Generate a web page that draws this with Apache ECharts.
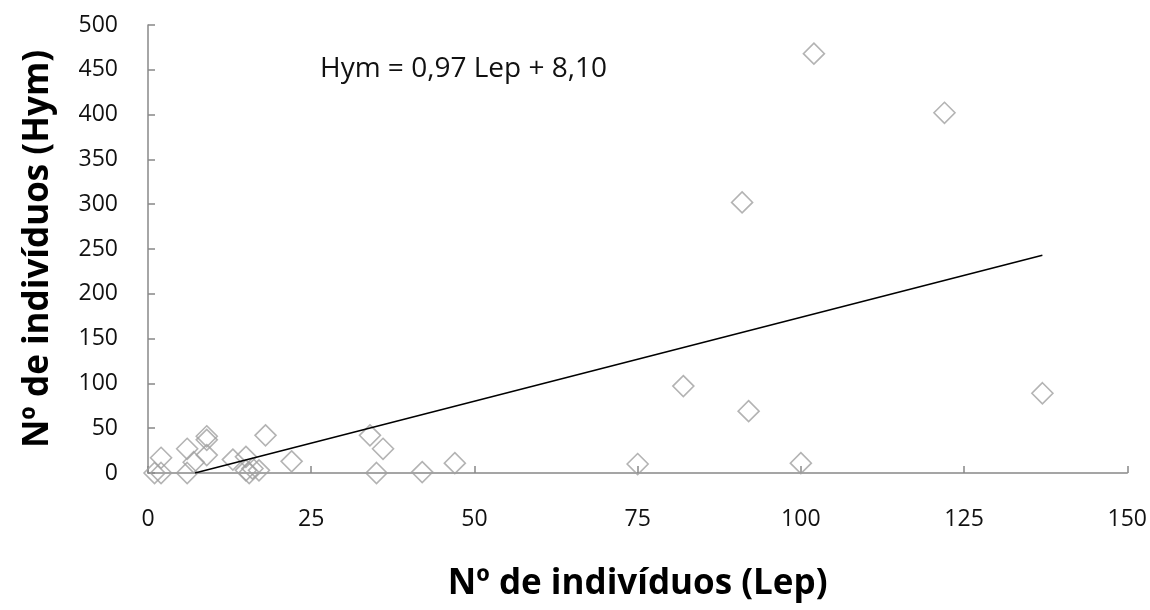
<!DOCTYPE html>
<html>
<head>
<meta charset="utf-8">
<script src="https://cdn.jsdelivr.net/npm/echarts@6/dist/echarts.min.js"></script>
<style>
html,body{margin:0;padding:0;background:#fff;}
#chart{width:1150px;height:610px;}
</style>
</head>
<body>
<div id="chart"></div>
<script>
// Lep (x) values
const lepValues = [1, 2, 2, 6, 6, 7, 9, 9, 9, 13, 15, 15, 15.5, 16, 17, 18, 22, 34, 36, 35, 42, 47, 75, 82, 91, 92, 100, 102, 122, 137];
// Hym (y) values
const hymValues = [0, 0, 17, 0, 27, 12, 37, 41, 20, 15, 18, 3, 0, 5, 3, 42, 13, 42, 27, 0, 1, 11, 10, 97, 302, 69, 11, 468, 402, 89];
// Trend line end points (as drawn)
const trendX = [7.2, 137];
const trendY = [0, 243];
const xTicks = [0, 25, 50, 75, 100, 125, 150];
const yTicks = [0, 50, 100, 150, 200, 250, 300, 350, 400, 450, 500];
const equationText = 'Hym = 0,97 Lep + 8,10';
const xTitle = 'Nº de indivíduos (Lep)';
const yTitle = 'Nº de indivíduos (Hym)';

const scatterData = lepValues.map((x, i) => [x, hymValues[i]]);
const trendData = trendX.map((x, i) => [x, trendY[i]]);

const chart = echarts.init(document.getElementById('chart'), null, {renderer: 'canvas'});
const FONT = 'Open Sans';
chart.setOption({
  animation: false,
  backgroundColor: '#ffffff',
  grid: {left: 148, right: 22, top: 25, bottom: 137, containLabel: false},
  xAxis: {
    type: 'value',
    min: xTicks[0], max: xTicks[xTicks.length - 1], interval: xTicks[1] - xTicks[0],
    name: xTitle, nameLocation: 'middle', nameGap: 94,
    nameTextStyle: {fontFamily: FONT, fontWeight: 'bold', fontSize: 35, color: '#000'},
    axisLine: {show: true, lineStyle: {color: '#888', width: 1.5}},
    axisTick: {show: true, inside: true, length: 7, lineStyle: {color: '#888', width: 1.5}},
    axisLabel: {fontFamily: FONT, fontSize: 23, color: '#111', margin: 35},
    splitLine: {show: false}
  },
  yAxis: {
    type: 'value',
    min: yTicks[0], max: yTicks[yTicks.length - 1], interval: yTicks[1] - yTicks[0],
    name: yTitle, nameLocation: 'middle', nameGap: 92, nameRotate: 90,
    nameTextStyle: {fontFamily: FONT, fontWeight: 'bold', fontSize: 35, color: '#000'},
    axisLine: {show: true, lineStyle: {color: '#888', width: 1.5}},
    axisTick: {show: true, inside: true, length: 7, lineStyle: {color: '#888', width: 1.5}},
    axisLabel: {fontFamily: FONT, fontSize: 23, color: '#111', margin: 30},
    splitLine: {show: false}
  },
  series: [
    {
      type: 'line',
      data: trendData,
      showSymbol: false,
      symbol: 'none',
      lineStyle: {color: '#000', width: 1.5},
      z: 3
    },
    {
      type: 'scatter',
      data: scatterData,
      symbol: 'diamond',
      symbolSize: 21,
      itemStyle: {color: 'rgba(255,255,255,0)', borderColor: '#a0a0a0', borderWidth: 1.6},
      z: 2
    }
  ],
  graphic: [{
    type: 'text',
    left: 320, top: 55,
    style: {text: equationText, font: '28px "Open Sans"', fill: '#111'}
  }]
});
</script>
</body>
</html>
